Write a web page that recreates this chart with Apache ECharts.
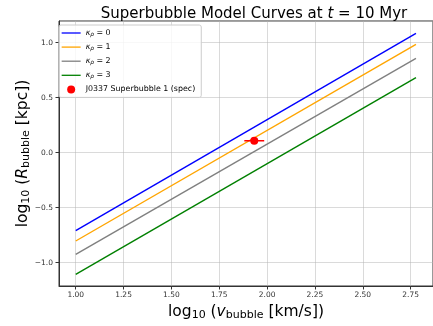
<!DOCTYPE html>
<html>
<head>
<meta charset="utf-8">
<script src="https://cdn.jsdelivr.net/npm/echarts@6/dist/echarts.min.js"></script>
<style>
  html, body { margin: 0; padding: 0; background: #fff; }
  #chart { width: 433px; height: 326px; }
</style>
</head>
<body>
<div id="chart"></div>
<script>
// log10(v_bubble) at the ends of each model curve
const logV = [1.0, 2.778];
// log10(R_bubble) for each kappa_rho model
const kappa0 = [-0.709, 1.085];
const kappa1 = [-0.803, 0.985];
const kappa2 = [-0.924, 0.858];
const kappa3 = [-1.106, 0.682];
const modelNames = ['0', '1', '2', '3'];
const modelColors = ['#0000ff', '#ffa500', '#808080', '#008000'];

// observed superbubble
const obsName = 'J0337 Superbubble 1 (spec)';
const obsPoint = [1.933, 0.109];
const obsXErr = 0.052;

const font = 'DejaVu Sans';
const models = [kappa0, kappa1, kappa2, kappa3];

const chart = echarts.init(document.getElementById('chart'), null, { renderer: 'canvas' });

const nameRich = {
  n: { fontFamily: font, fontSize: 15.5, color: '#000' },
  i: { fontFamily: font, fontSize: 15.5, fontStyle: 'italic', color: '#000' },
  s: { fontFamily: font, fontSize: 11, color: '#000', padding: [7, 0, 0, 0] }
};

const fmtY = (v) => (v < 0 ? '\u2212' : '') + Math.abs(v).toFixed(1);
const fmtX = (v) => v.toFixed(2);

chart.setOption({
  animation: false,
  title: {
    text: '{n|Superbubble Model Curves at }{i|t}{n| = 10 Myr}',
    left: 249,
    top: 2,
    textAlign: 'center',
    textStyle: {
      fontWeight: 'normal',
      rich: {
        n: { fontFamily: font, fontSize: 15, fontWeight: 'normal', color: '#000' },
        i: { fontFamily: font, fontSize: 15, fontWeight: 'normal', fontStyle: 'italic', color: '#000' }
      }
    }
  },
  legend: {
    orient: 'vertical',
    left: 59,
    top: 25,
    padding: [4, 6, 4, 2],
    itemWidth: 19,
    itemHeight: 8,
    itemGap: 5.6,
    backgroundColor: 'rgba(255,255,255,0.8)',
    borderColor: '#cccccc',
    borderWidth: 1,
    borderRadius: 2,
    data: modelNames.map((k) => ({ name: 'k' + k, itemStyle: { opacity: 0 }, lineStyle: { width: 1.3 } }))
      .concat([{ name: obsName }]),
    formatter: (name) => name === obsName ? '{n|' + name + '}' : '{i|\u03ba}{s|\u03c1}{n| = ' + name.slice(1) + '}',
    textStyle: {
      rich: {
        n: { fontFamily: font, fontSize: 7.9, color: '#000' },
        i: { fontFamily: font, fontSize: 7.9, fontStyle: 'italic', color: '#000' },
        s: { fontFamily: font, fontSize: 5.8, fontStyle: 'italic', color: '#000', padding: [3, 0, 0, 0] }
      }
    }
  },
  grid: {
    left: 59,
    top: 21,
    bottom: 40,
    right: -6,
    show: true,
    borderColor: '#333',
    borderWidth: 1
  },
  xAxis: {
    type: 'value',
    min: 0.9126,
    max: 2.867,
    minInterval: 0.25,
    maxInterval: 0.25,
    splitNumber: 8,
    name: '{n|log}{s|10}{n| (}{i|v}{s|bubble}{n| [km/s])}',
    nameLocation: 'middle',
    nameGap: 16,
    nameTextStyle: { rich: nameRich },
    axisLine: { show: true, onZero: false, lineStyle: { color: '#333', width: 1 } },
    axisTick: { show: true, inside: false, length: 3.5, lineStyle: { color: '#333' } },
    axisLabel: {
      fontFamily: font, fontSize: 7.5, color: '#333', margin: 5,
      showMinLabel: false, showMaxLabel: false, formatter: fmtX
    },
    splitLine: { show: true, lineStyle: { color: '#b0b0b0', width: 0.8, opacity: 0.6 } }
  },
  yAxis: {
    type: 'value',
    min: -1.212,
    max: 1.197,
    minInterval: 0.5,
    maxInterval: 0.5,
    splitNumber: 5,
    name: '{n|log}{s|10}{n| (}{i|R}{s|bubble}{n| [kpc])}',
    nameLocation: 'middle',
    nameRotate: 90,
    nameGap: 27,
    nameMoveOverlap: false,
    nameTextStyle: { rich: nameRich },
    axisLine: { show: true, onZero: false, lineStyle: { color: '#333', width: 1 } },
    axisTick: { show: true, inside: false, length: 3.5, lineStyle: { color: '#333' } },
    axisLabel: {
      fontFamily: font, fontSize: 7.5, color: '#333', margin: 6,
      showMinLabel: false, showMaxLabel: false, formatter: fmtY
    },
    splitLine: { show: true, lineStyle: { color: '#b0b0b0', width: 0.8, opacity: 0.6 } }
  },
  series: models.map((vals, idx) => ({
    name: 'k' + modelNames[idx],
    type: 'line',
    symbol: 'none',
    color: modelColors[idx],
    lineStyle: { width: 1.4, color: modelColors[idx] },
    data: logV.map((x, j) => [x, vals[j]])
  })).concat([
    {
      name: 'xerr',
      type: 'line',
      symbol: 'none',
      color: '#ff0000',
      lineStyle: { width: 1.4, color: '#ff0000' },
      data: [[obsPoint[0] - obsXErr, obsPoint[1]], [obsPoint[0] + obsXErr, obsPoint[1]]],
      z: 4
    },
    {
      name: obsName,
      type: 'scatter',
      symbol: 'circle',
      symbolSize: 8,
      color: '#ff0000',
      itemStyle: { color: '#ff0000', opacity: 1 },
      data: [obsPoint],
      z: 5
    }
  ])
});
</script>
</body>
</html>
